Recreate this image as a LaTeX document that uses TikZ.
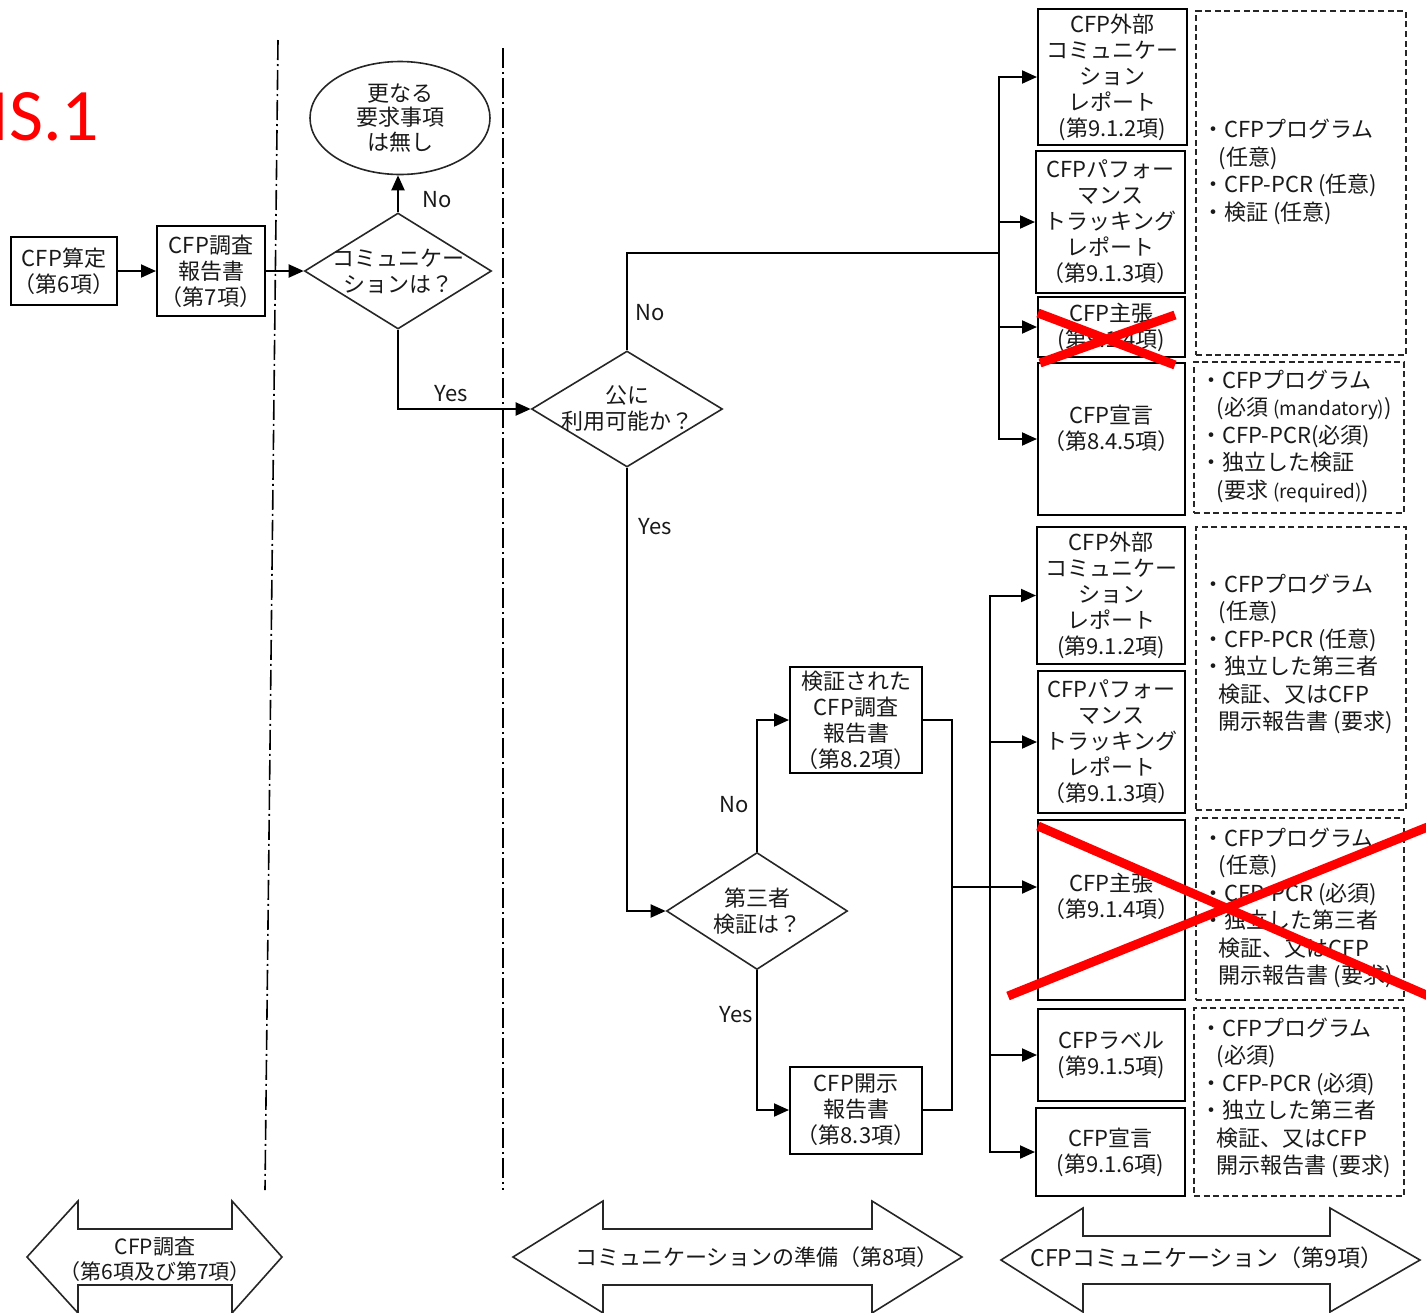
\documentclass[tikz,border=0pt]{standalone}
\usepackage{fontspec}
\setmainfont{Noto Sans CJK JP}
\newfontfamily\calibrifont{Carlito}
\usetikzlibrary{shapes.geometric,arrows.meta,calc}
\newcommand\dind{\hspace*{0.75em}}
\newcommand\smallen[1]{{\fontsize{9.5}{13.75}\selectfont #1}}
\begin{document}
\begin{tikzpicture}[x=0.5pt,y=-0.5pt,
  every node/.style={text=black!90},
  box/.style={draw=black,line width=1pt,inner sep=0pt,align=center,font=\fontsize{11}{13}\selectfont},
  dbox/.style={draw=black!85,line width=0.9pt,dash pattern=on 3pt off 1.8pt,inner sep=0pt},
  dtxt/.style={anchor=west,inner sep=0pt,align=left,font=\fontsize{11}{13.75}\selectfont},
  dia/.style={draw=black!85,diamond,line width=0.8pt,inner sep=0pt},
  lbl/.style={font=\fontsize{11}{13}\selectfont,align=center},
  arr/.style={line width=1pt,-{Triangle[length=7.5pt,width=6.5pt]}},
  con/.style={line width=1pt},
  yn/.style={font=\fontsize{11}{13}\selectfont,inner sep=0pt},
  sep/.style={line width=0.8pt,dash pattern=on 10pt off 2pt on 1pt off 2pt},
  xred/.style={red,line width=4.5pt},
  barrow/.style={draw=black!85,line width=0.8pt,fill=white}
]
\useasboundingbox (0,0) rectangle (1426,1313);
\clip (0,0) rectangle (1426,1313);

% title
\node[text=red,font=\calibrifont\fontsize{37}{40}\selectfont,anchor=base west,inner sep=0pt] (title) at (-10,140) {IS.1};

% separators
\draw[sep] (278,40) -- (265,1190);
\draw[sep] (503,48) -- (503,1190);

% left part
\node[box,minimum width=53pt,minimum height=34pt] (b1) at (64,271) {CFP算定\\（第6項）};
\node[box,minimum width=54pt,minimum height=45pt] (b2) at (211,271) {CFP調査\\報告書\\（第7項）};
\node[dia,minimum width=93.5pt,minimum height=58pt,label={[lbl]center:{コミュニケー\\ションは？}}] (d1) at (398,271) {};
\node[draw=black!85,ellipse,line width=0.8pt,minimum width=90pt,minimum height=56.5pt,inner sep=0pt,
      label={[lbl,font=\fontsize{11}{12.25}\selectfont]center:{更なる\\要求事項\\は無し}}] (e1) at (400,118) {};

% middle diamonds
\node[dia,minimum width=95.5pt,minimum height=58pt,label={[lbl]center:{公に\\利用可能か？}}] (d2) at (627,409) {};
\node[dia,minimum width=90.5pt,minimum height=58.5pt,label={[lbl]center:{第三者\\検証は？}}] (d3) at (757,911) {};

\node[box,minimum width=66pt,minimum height=53pt] (B1) at (856,720) {検証された\\CFP調査\\報告書\\（第8.2項）};
\node[box,minimum width=66pt,minimum height=43.5pt] (B2) at (856,1110) {CFP開示\\報告書\\（第8.3項）};

% right upper boxes
\node[box,minimum width=74.5pt,minimum height=68pt] (A1) at (1112.5,77) {CFP外部\\コミュニケー\\ション\\レポート\\(第9.1.2項)};
\node[box,minimum width=74.5pt,minimum height=71pt] (A2) at (1110.5,222) {CFPパフォー\\マンス\\トラッキング\\レポート\\（第9.1.3項）};
\node[box,minimum width=73.5pt,minimum height=30pt] (A3) at (1111.5,327) {CFP主張\\(第9.1.4項)};
\node[box,minimum width=73.5pt,minimum height=76pt] (A4) at (1111.5,439) {CFP宣言\\（第8.4.5項）\\[-1.5pt]};

\node[dbox,minimum width=105pt,minimum height=172pt] (D1) at (1301,183) {};
\node[dtxt] (D1t) at (1202,172) {・CFPプログラム\\\dind(任意)\\・CFP-PCR (任意)\\・検証 (任意)};
\node[dbox,minimum width=105pt,minimum height=75.5pt] (D2) at (1299,437.5) {};
\node[dtxt] (D2t) at (1200,436) {・CFPプログラム\\\dind(必須 \smallen{(mandatory)})\\・CFP-PCR(必須)\\・独立した検証\\\dind(要求 \smallen{(required)})};

% right lower boxes
\node[box,minimum width=74pt,minimum height=68.5pt] (C1) at (1111,595.5) {CFP外部\\コミュニケー\\ション\\レポート\\(第9.1.2項)};
\node[box,minimum width=73.5pt,minimum height=71pt] (C2) at (1111.5,742) {CFPパフォー\\マンス\\トラッキング\\レポート\\（第9.1.3項）};
\node[box,minimum width=73.5pt,minimum height=90pt] (C3) at (1111.5,910) {CFP主張\\（第9.1.4項）\\[1.5pt]};
\node[box,minimum width=73.5pt,minimum height=46pt] (C4) at (1111.5,1055) {CFPラベル\\(第9.1.5項)};
\node[box,minimum width=74.5pt,minimum height=44pt] (C5) at (1110.5,1152) {CFP宣言\\(第9.1.6項)};

\node[dbox,minimum width=105pt,minimum height=141.5pt] (E1) at (1301,668.5) {};
\node[dtxt] (E1t) at (1202,654) {・CFPプログラム\\\dind(任意)\\・CFP-PCR (任意)\\・独立した第三者\\\dind 検証、又はCFP\\\dind 開示報告書 (要求)};
\node[dbox,minimum width=104pt,minimum height=91pt] (E2) at (1300,909) {};
\node[dtxt] (E2t) at (1202,908) {・CFPプログラム\\\dind(任意)\\・CFP-PCR (必須)\\・独立した第三者\\\dind 検証、又はCFP\\\dind 開示報告書 (要求)};
\node[dbox,minimum width=105pt,minimum height=94pt] (E3) at (1299,1102) {};
\node[dtxt] (E3t) at (1200,1098) {・CFPプログラム\\\dind(必須)\\・CFP-PCR (必須)\\・独立した第三者\\\dind 検証、又はCFP\\\dind 開示報告書 (要求)};

% connectors
\draw[arr] (b1.east) -- (b2.west);
\draw[arr] (b2.east) -- (d1.west);
\draw[arr] (d1.north) -- (d1.north |- e1.south);
\node[yn] (no1) at (437,200) {No};
\draw[arr] (d1.south) |- (d2.west);
\node[yn] (yes1) at (451,394) {Yes};

\coordinate (bus1) at (999,253);
\draw[con] (d2.north) |- (bus1);
\foreach \n in {A1,A2,A3,A4} \draw[arr] (bus1) |- (\n.west);
\node[yn] (no2) at (650,313) {No};

\draw[arr] (d2.south) |- (d3.west);
\node[yn] (yes2) at (655,527) {Yes};
\draw[arr] (d3.north) |- (B1.west);
\node[yn] (no3) at (734,805) {No};
\draw[arr] (d3.south) |- (B2.west);
\node[yn] (yes3) at (736,1015) {Yes};

\coordinate (mj) at (952,887);
\draw[con] (B1.east) -| (mj);
\draw[con] (B2.east) -| (mj);
\draw[arr] (mj) -- (mj -| C3.west);
\coordinate (bus2) at (990,887);
\foreach \n in {C1,C2,C4,C5} \draw[arr] (bus2) |- (\n.west);

% red crosses
\draw[xred] (1038,313) -- (1175,365);
\draw[xred] (1040,363) -- (1175,315);
\draw[xred] (1038,826) -- (1440,1001);
\draw[xred] (1008,996) -- (1440,822);

% bottom block arrows
\draw[barrow] (27,1257) -- (78,1201) -- (78,1229) -- (232,1229) -- (232,1201) -- (282,1257) -- (232,1313) -- (232,1285) -- (78,1285) -- (78,1313) -- cycle;
\node[font=\fontsize{10.5}{12.5}\selectfont,align=center,inner sep=0pt] (f1) at (155,1259) {CFP調査\\（第6項及び第7項）};
\draw[barrow] (513,1257) -- (603,1201) -- (603,1229) -- (872,1229) -- (872,1201) -- (962,1257) -- (872,1313) -- (872,1285) -- (603,1285) -- (603,1313) -- cycle;
\node[font=\fontsize{11}{12.5}\selectfont,inner sep=0pt] (f2) at (757,1257) {コミュニケーションの準備（第8項）};
\draw[barrow] (1001,1260) -- (1083,1208) -- (1083,1236) -- (1330,1236) -- (1330,1208) -- (1420,1260) -- (1330,1312) -- (1330,1284) -- (1083,1284) -- (1083,1312) -- cycle;
\node[font=\fontsize{11.5}{12.5}\selectfont,inner sep=0pt] (f3) at (1207,1258) {CFPコミュニケーション（第9項）};
\end{tikzpicture}
\end{document}
